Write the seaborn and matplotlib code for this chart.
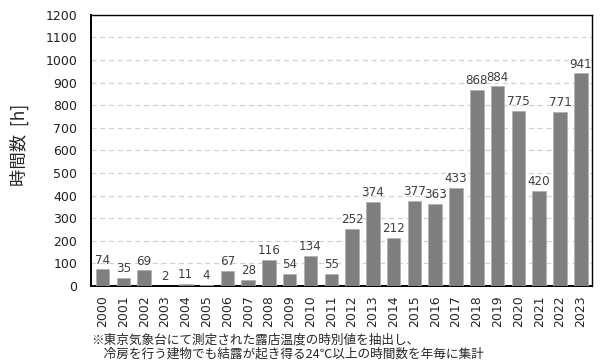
import matplotlib
matplotlib.use("Agg")
import matplotlib.pyplot as plt
import seaborn as sns
import pandas as pd

# data
years = [str(y) for y in range(2000, 2024)]
hours = [74, 35, 69, 2, 11, 4, 67, 28, 116, 54, 134, 55, 252, 374, 212,
         377, 363, 433, 868, 884, 775, 420, 771, 941]
yticks = list(range(0, 1300, 100))

sns.set_style("white")
plt.rcParams['font.family'] = ['DejaVu Sans', 'Noto Sans CJK JP']

df = pd.DataFrame({"year": years, "hours": hours})

fig = plt.figure(figsize=(6, 3.63), dpi=100)
ax = fig.add_axes([0.152, 0.212, 0.835, 0.747])

sns.barplot(data=df, x="year", y="hours", color="#7f7f7f", width=0.65,
            saturation=1, edgecolor="#b0b0b0", linewidth=0.6, ax=ax, zorder=3)

for i, v in enumerate(hours):
    ax.text(i, v + 12, str(v), ha="center", va="bottom", fontsize=8.6,
            color="#404040", zorder=4)

ax.set_ylim(0, 1200)
ax.set_yticks(yticks)
ax.set_yticklabels([str(t) for t in yticks], fontsize=9, color="#202020")
ax.tick_params(axis="x", rotation=90, labelsize=9, length=0, pad=6.5)
ax.tick_params(axis="y", length=0, pad=10)
ax.set_xlim(-0.55, len(years) - 0.45)
ax.yaxis.grid(True, linestyle=(0, (4, 3)), color="#d0d0d0", linewidth=0.9, zorder=0)
for sp in ax.spines.values():
    sp.set_color("black")
    sp.set_linewidth(1.0)
ax.spines["left"].set_linewidth(1.4)
ax.spines["bottom"].set_linewidth(1.4)

ax.set_xlabel("")
ax.set_ylabel("時間数  [h]", fontsize=12.5,
              family=['Noto Sans CJK JP', 'DejaVu Sans'])
ax.yaxis.set_label_coords(-0.125, 0.52)

fig.text(0.152, 0.006, "※東京気象台にて測定された露店温度の時別値を抽出し、\n"
         "　冷房を行う建物でも結露が起き得る24℃以上の時間数を年毎に集計",
         fontsize=9.1, ha="left", va="bottom", linespacing=1.15,
         family=['Noto Sans CJK JP', 'DejaVu Sans'])

fig.savefig("out.png", dpi=100)
